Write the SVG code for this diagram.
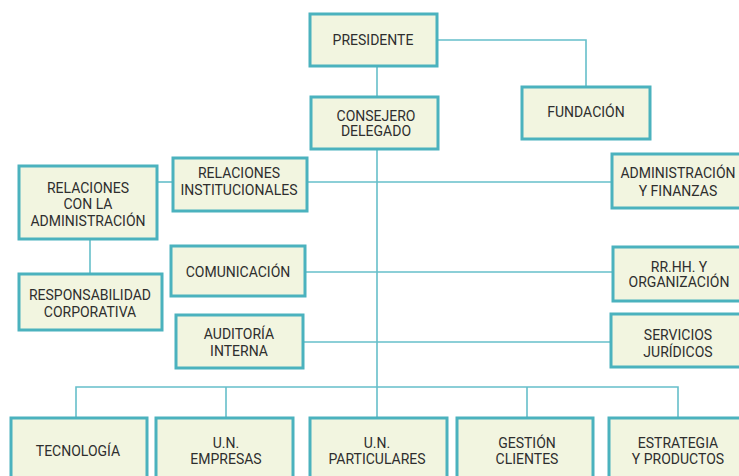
<svg xmlns="http://www.w3.org/2000/svg" width="739" height="476" viewBox="0 0 739 476">
<style>
.b{fill:#f2f5e0;stroke:#4bb2be;stroke-width:3}
.t{font-family:Roboto,"Liberation Sans",sans-serif;font-size:14px;fill:#2e2e2e;text-anchor:middle}
.c{fill:none;stroke:#66bfca;stroke-width:1.6}
</style>
<rect width="739" height="476" fill="#fff"/>
<g id="connectors">
<path class="c" d="M437 40H586V87"/>
<path class="c" d="M377 66V97"/>
<path class="c" d="M377 149V387"/>
<path class="c" d="M157 182H173"/>
<path class="c" d="M307 182H612"/>
<path class="c" d="M90 239V274"/>
<path class="c" d="M305 272H613"/>
<path class="c" d="M303 342H611"/>
<path class="c" d="M76 418V387H678V418"/>
<path class="c" d="M226 387V418M527 387V418M377 387V418"/>
</g>
<g id="presidente"><rect class="b" x="310" y="14" width="127" height="52"/><text class="t" x="373" y="45">PRESIDENTE</text></g>
<g id="fundacion"><rect class="b" x="522" y="87" width="128" height="52"/><text class="t" x="586" y="117">FUNDACIÓN</text></g>
<g id="consejero"><rect class="b" x="311" y="97" width="127" height="52"/><text class="t" x="376" y="121">CONSEJERO</text><text class="t" x="376" y="136">DELEGADO</text></g>
<g id="rel-admin"><rect class="b" x="19" y="166" width="138" height="73"/><text class="t" x="88" y="193">RELACIONES</text><text class="t" x="88" y="209">CON LA</text><text class="t" x="88" y="226">ADMINISTRACIÓN</text></g>
<g id="rel-inst"><rect class="b" x="173" y="158" width="134" height="53"/><text class="t" x="239" y="178">RELACIONES</text><text class="t" x="239" y="195">INSTITUCIONALES</text></g>
<g id="admin-fin"><rect class="b" x="612" y="154" width="134" height="54"/><text class="t" x="678" y="178">ADMINISTRACIÓN</text><text class="t" x="678" y="196">Y FINANZAS</text></g>
<g id="resp-corp"><rect class="b" x="19" y="274" width="143" height="56"/><text class="t" x="90" y="300">RESPONSABILIDAD</text><text class="t" x="90" y="317">CORPORATIVA</text></g>
<g id="comunicacion"><rect class="b" x="171" y="246" width="134" height="50"/><text class="t" x="238" y="277">COMUNICACIÓN</text></g>
<g id="rrhh"><rect class="b" x="613" y="247" width="134" height="54"/><text class="t" x="679" y="272">RR.HH. Y</text><text class="t" x="679" y="287">ORGANIZACIÓN</text></g>
<g id="auditoria"><rect class="b" x="176" y="315" width="127" height="53"/><text class="t" x="239" y="339">AUDITORÍA</text><text class="t" x="239" y="356">INTERNA</text></g>
<g id="servicios"><rect class="b" x="611" y="314" width="134" height="53"/><text class="t" x="678" y="340">SERVICIOS</text><text class="t" x="678" y="357">JURÍDICOS</text></g>
<g id="tecnologia"><rect class="b" x="11" y="418" width="136" height="70"/><text class="t" x="78" y="456">TECNOLOGÍA</text></g>
<g id="un-empresas"><rect class="b" x="156" y="418" width="137" height="70"/><text class="t" x="226" y="448">U.N.</text><text class="t" x="226" y="464">EMPRESAS</text></g>
<g id="un-particulares"><rect class="b" x="310" y="418" width="137" height="70"/><text class="t" x="377" y="448">U.N.</text><text class="t" x="377" y="464">PARTICULARES</text></g>
<g id="gestion"><rect class="b" x="457" y="418" width="136" height="70"/><text class="t" x="527" y="448">GESTIÓN</text><text class="t" x="527" y="464">CLIENTES</text></g>
<g id="estrategia"><rect class="b" x="609" y="418" width="137" height="70"/><text class="t" x="678" y="448">ESTRATEGIA</text><text class="t" x="678" y="464">Y PRODUCTOS</text></g>
</svg>
